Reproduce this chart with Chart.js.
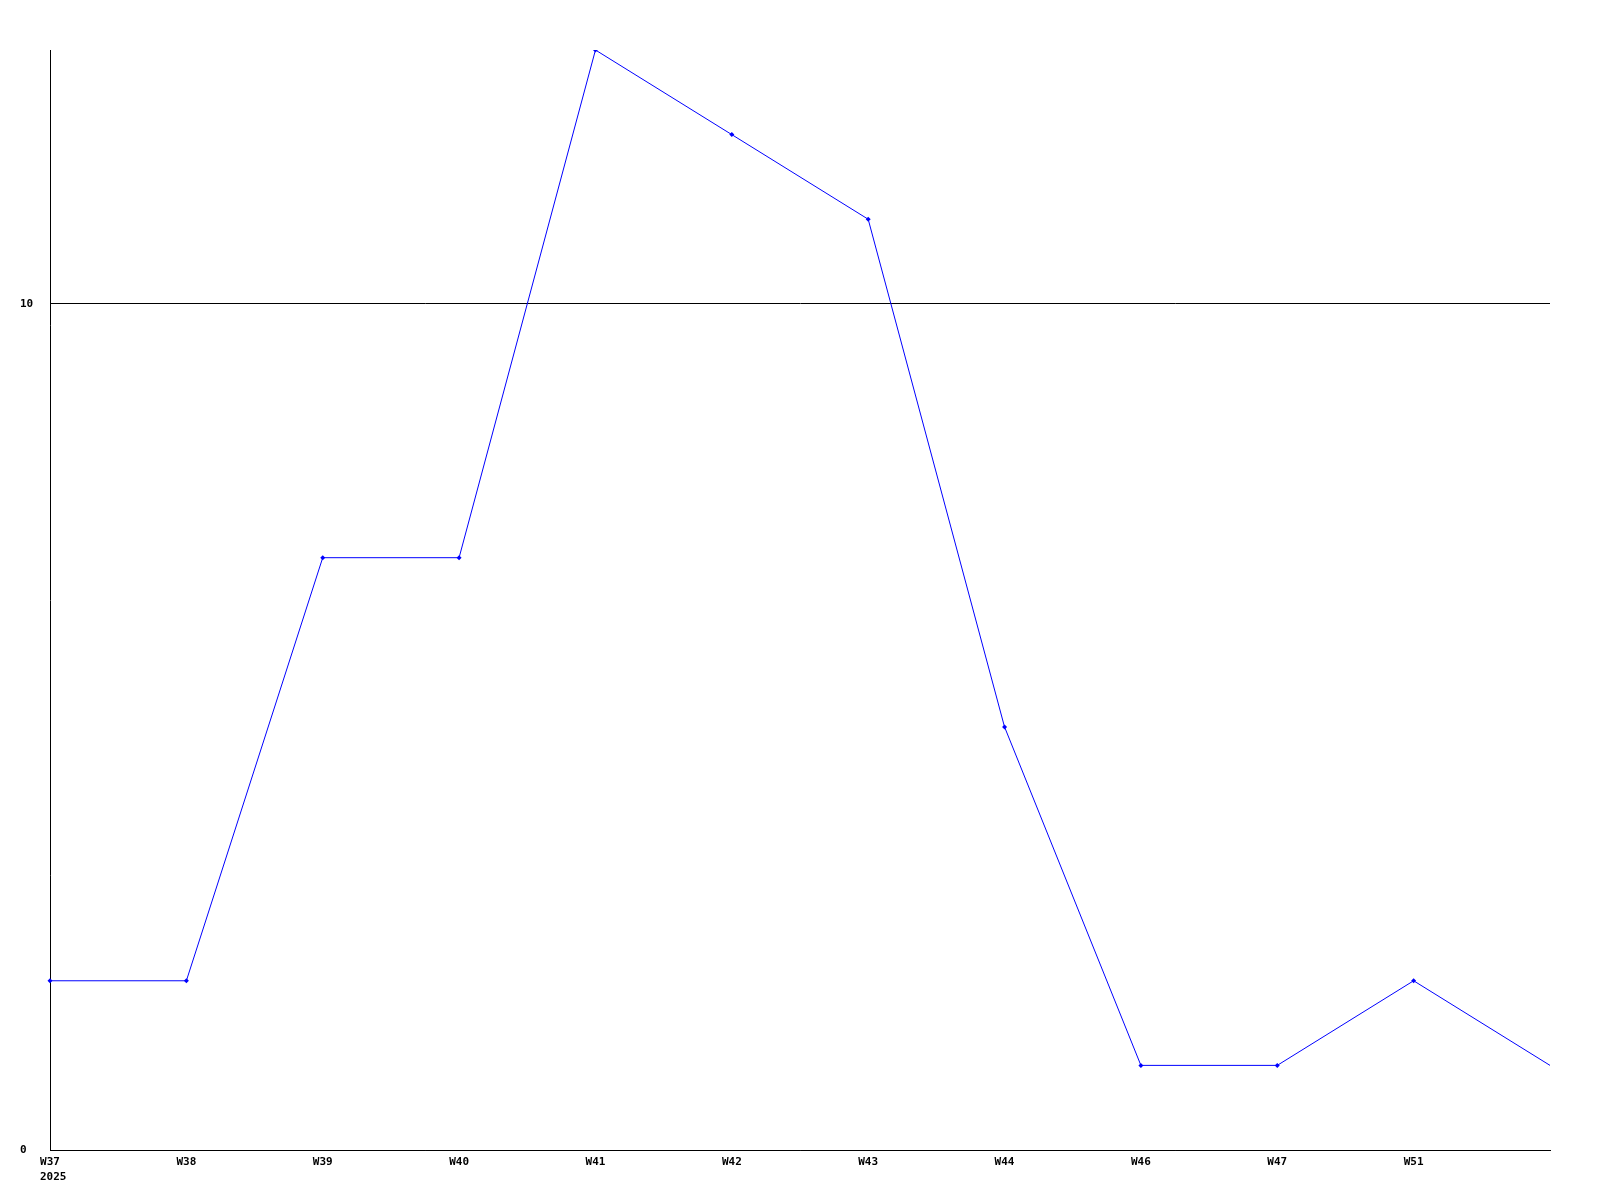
<!DOCTYPE html>
<html>
<head>
<meta charset="utf-8">
<script src="https://cdn.jsdelivr.net/npm/chart.js@4.4.0/dist/chart.umd.min.js"></script>
<style>
  body { margin: 0; background: #fff; }
  #wrap { width: 1600px; height: 1200px; }
</style>
</head>
<body>
<div id="wrap"><canvas id="myChart"></canvas></div>
<script>
var semanas = ['W37', 'W38', 'W39', 'W40', 'W41', 'W42', 'W43', 'W44', 'W46', 'W47', 'W51', ''];
var valores = [2, 2, 7, 7, 13, 12, 11, 5, 1, 1, 2, 1];
var ano = '2025';
var yTicks = [0, 10];

var fonte = { family: '"DejaVu Sans Mono", monospace', size: 11, weight: 'bold' };

// escreve o ano embaixo da primeira semana
var anoPlugin = {
    id: 'ano',
    afterDraw: function (chart) {
        var x = chart.scales.x;
        var c = chart.ctx;
        c.save();
        c.font = 'bold 11px "DejaVu Sans Mono", monospace';
        c.fillStyle = '#000';
        c.textAlign = 'left';
        c.textBaseline = 'middle';
        c.fillText(ano, x.getPixelForValue(0) - 10, x.bottom - 23);
        c.restore();
    }
};

let ctx = document.getElementById('myChart').getContext('2d');
let myChart = new Chart(ctx, {
    type: 'line',
    data: {
        labels: semanas,
        datasets: [{
            data: valores,
            borderColor: '#0000ff',
            backgroundColor: '#0000ff',
            borderWidth: 1,
            pointStyle: 'rectRot',
            pointRadius: function (c) { return c.dataIndex === valores.length - 1 ? 0 : 2.5; },
            pointBorderWidth: 0,
            tension: 0
        }]
    },
    plugins: [anoPlugin],
    options: {
        responsive: true,
        maintainAspectRatio: false,
        animation: false,
        layout: { padding: { left: 20, top: 50, right: 50, bottom: 0 } },
        plugins: {
            legend: { display: false },
            tooltip: { enabled: false }
        },
        scales: {
            x: {
                offset: false,
                grid: { display: false, drawTicks: false },
                border: { color: '#000', width: 1 },
                ticks: {
                    color: '#000',
                    font: fonte,
                    padding: 6,
                    maxRotation: 0,
                    autoSkip: false
                },
                afterFit: function (s) { s.height = 50; }
            },
            y: {
                min: 0,
                max: 13,
                afterBuildTicks: function (s) {
                    s.ticks = yTicks.map(function (v) { return { value: v }; });
                },
                grid: { color: '#000', lineWidth: 1, drawTicks: false },
                border: { color: '#000', width: 1 },
                ticks: {
                    color: '#000',
                    font: fonte,
                    crossAlign: 'far',
                    padding: 0
                },
                afterFit: function (s) { s.width = 30; }
            }
        }
    }
});
</script>
</body>
</html>
